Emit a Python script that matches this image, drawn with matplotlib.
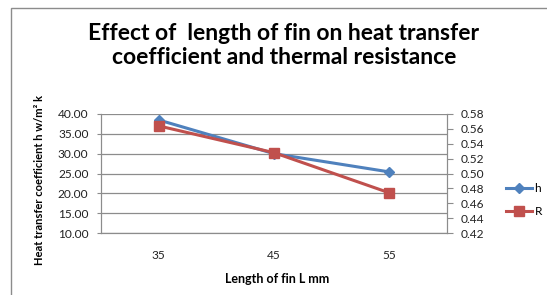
import matplotlib.pyplot as plt
from matplotlib.patches import Rectangle
from matplotlib.lines import Line2D

plt.rcParams['font.family'] = ['Lato', 'DejaVu Sans']

# data
lengths = ['35', '45', '55']
h_values = [38.5, 30.0, 25.4]
r_values = [0.564, 0.528, 0.474]

W, H = 547, 295
fig = plt.figure(figsize=(W / 100, H / 100), dpi=100)

# chart outer border
fig.add_artist(Rectangle((11 / W, -0.1), 1.2, 1.1 - 8 / H, transform=fig.transFigure,
                         fill=False, edgecolor='#8c8c8c', linewidth=1))

left, right, top, bottom = 101, 447, 114, 233
ax = fig.add_axes([left / W, 1 - bottom / H, (right - left) / W, (bottom - top) / H])
x = range(len(lengths))

ax.plot(x, h_values, color='#4F81BD', linewidth=2.2, marker='D', markersize=5.5, zorder=3)
ax.set_ylim(10, 40)
ax.set_yticks([10, 15, 20, 25, 30, 35, 40])
ax.set_yticklabels([f'{v:.2f}' for v in ax.get_yticks()])
ax.set_xlim(-0.5, 2.5)
ax.set_xticks(list(x))
ax.set_xticklabels(lengths)
ax.grid(axis='y', color='#8c8c8c', linewidth=0.9)
ax.set_axisbelow(True)
ax.spines['top'].set_visible(False)
for s in ['left', 'bottom', 'right']:
    ax.spines[s].set_color('#8c8c8c')
ax.tick_params(axis='x', length=0, pad=12, labelsize=8.6, colors='#222222')
ax.tick_params(axis='y', length=3, color='#8c8c8c', labelsize=8.6, labelcolor='#222222', pad=6)

ax2 = ax.twinx()
ax2.plot(x, r_values, color='#C0504D', linewidth=2.2, marker='s', markersize=6.5, zorder=3)
ax2.set_ylim(0.42, 0.58)
ax2.set_yticks([0.42, 0.44, 0.46, 0.48, 0.50, 0.52, 0.54, 0.56, 0.58])
ax2.set_yticklabels([f'{v:.2f}' for v in ax2.get_yticks()])
ax2.spines['top'].set_visible(False)
for s in ['left', 'bottom', 'right']:
    ax2.spines[s].set_color('#8c8c8c')
ax2.tick_params(axis='y', length=4, color='#8c8c8c', labelsize=8.6, labelcolor='#222222', pad=6)

fig.text(277 / W, 1 - 279 / H, 'Length of fin L mm', ha='center', va='center',
         fontsize=9, fontweight='bold')
fig.text(40 / W, 1 - 180 / H, 'Heat transfer coefficient h w/m² k', rotation=90,
         ha='center', va='center', fontsize=8, fontweight='bold')

fig.text(284 / W, 1 - 33 / H, 'Effect of  length of fin on heat transfer',
         ha='center', va='center', fontsize=16.5, fontweight='bold')
fig.text(284 / W, 1 - 58 / H, 'coefficient and thermal resistance',
         ha='center', va='center', fontsize=16.5, fontweight='bold')

# legend
handles = [Line2D([], [], color='#4F81BD', linewidth=2.2, marker='D', markersize=5.5),
           Line2D([], [], color='#C0504D', linewidth=2.2, marker='s', markersize=6.5)]
fig.legend(handles, ['h', 'R'], loc='center left', bbox_to_anchor=(495 / W, 1 - 200 / H),
           frameon=False, fontsize=8.6, handlelength=2.2, handletextpad=0.2, labelspacing=1.0)

fig.savefig('out.png', dpi=100)
